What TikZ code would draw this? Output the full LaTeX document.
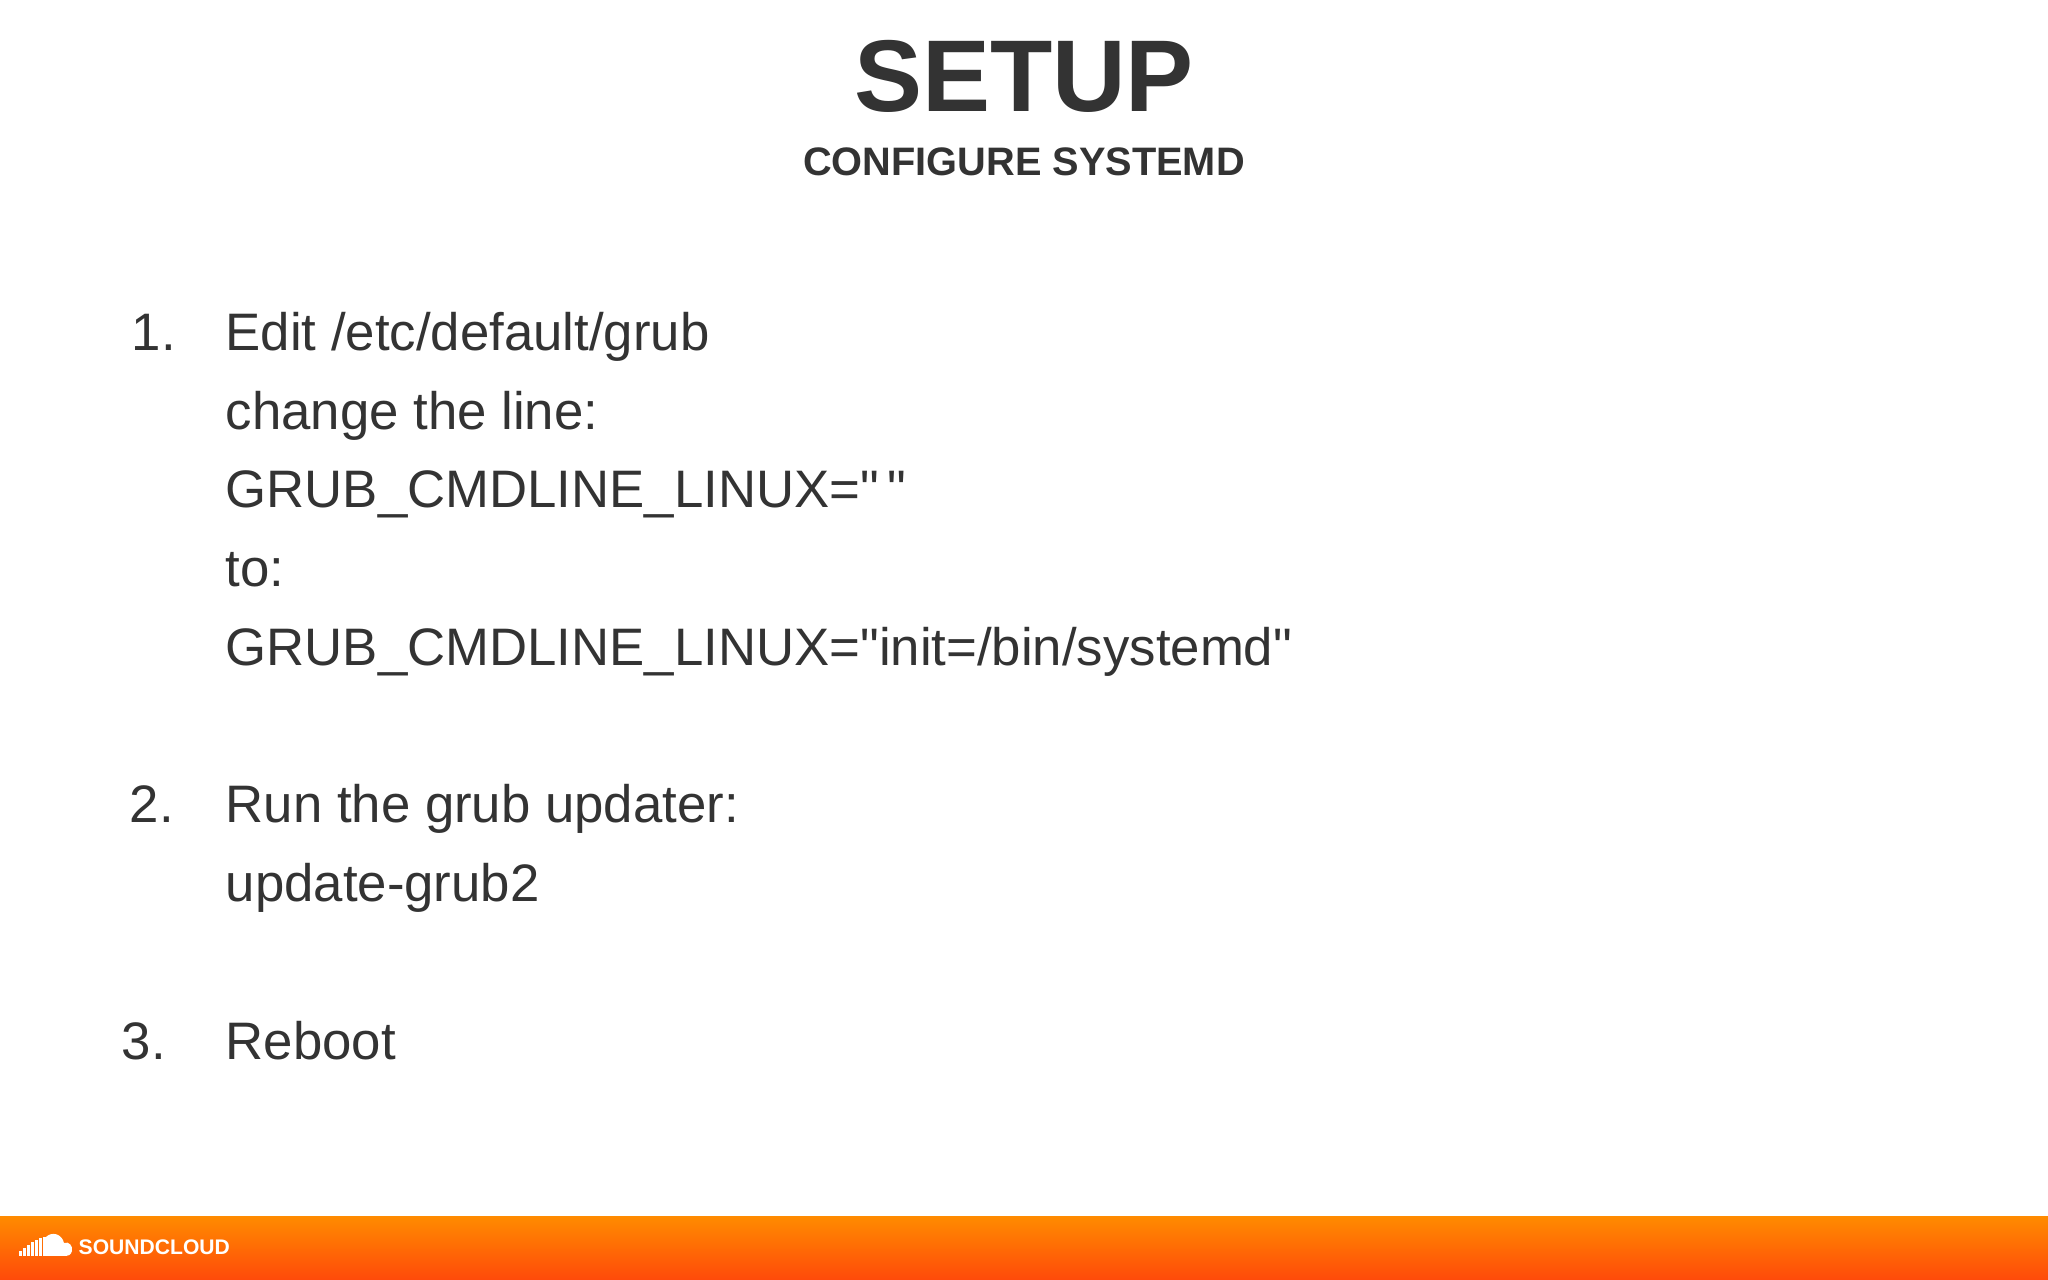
\documentclass[tikz,border=0pt]{standalone}
\usepackage{fontspec}
\setmainfont{Liberation Sans}
\newfontfamily\nolig{Liberation Sans}
\definecolor{txt}{HTML}{333333}
\definecolor{orA}{HTML}{FF8A00}
\definecolor{orB}{HTML}{FF4A0A}
\newcommand{\dq}{{\nolig"}}
\begin{document}
\begin{tikzpicture}[x=0.01cm,y=-0.01cm,
  body/.style={anchor=base west,inner sep=0,text=txt,font=\fontsize{15pt}{18pt}\selectfont},
  num/.style={anchor=base west,inner sep=0,text=txt,font=\fontsize{15pt}{18pt}\selectfont}]
\useasboundingbox (0,0) rectangle (2048,1280);
\fill[white] (0,0) rectangle (2048,1280);
\node[anchor=base,inner sep=0,text=txt,font=\fontsize{29pt}{34pt}\selectfont\bfseries] (title) at (1024,112) {SETUP};
\node[anchor=base,inner sep=0,text=txt,font=\fontsize{11.3pt}{14pt}\selectfont\bfseries] (sub) at (1024,176) {CONFIGURE SYSTEMD};
\node[num] (n1) at (131,351) {1.};
\node[body] (l1) at (225,351) {Edit /etc/default/grub};
\node[body] (l2) at (225,430) {change the line:};
\node[body] (l3) at (225,508) {GRUB\_CMDLINE\_LINUX=\dq\,\dq};
\node[body] (l4) at (225,587) {to:};
\node[body] (l5) at (225,666) {GRUB\_CMDLINE\_LINUX=\dq init=/bin/systemd\dq};
\node[num] (n2) at (129,823) {2.};
\node[body] (l6) at (225,823) {Run the grub updater:};
\node[body] (l7) at (225,902) {update-grub2};
\node[num] (n3) at (121,1060) {3.};
\node[body] (l8) at (225,1060) {Reboot};
\shade[top color=orA,bottom color=orB] (0,1217) rectangle (2048,1280);
% cloud logo
\foreach \i/\h in {0/5,4/8,8/11,12/14,16/16,20/18,24/19}
  \fill[white] (19+\i,1256) rectangle (21.5+\i,1256-\h);
\fill[white] (46,1256) -- (46,1237) .. controls (52,1231) and (62,1234) .. (64,1243)
  .. controls (69,1241) and (73,1246) .. (72,1251) .. controls (71,1255) and (68,1256) .. (66,1256) -- cycle;
\node[anchor=west,inner sep=0,text=white,font=\fontsize{6pt}{8pt}\selectfont\bfseries] (logo) at (78,1247) {SOUNDCLOUD};
\end{tikzpicture}
\end{document}
